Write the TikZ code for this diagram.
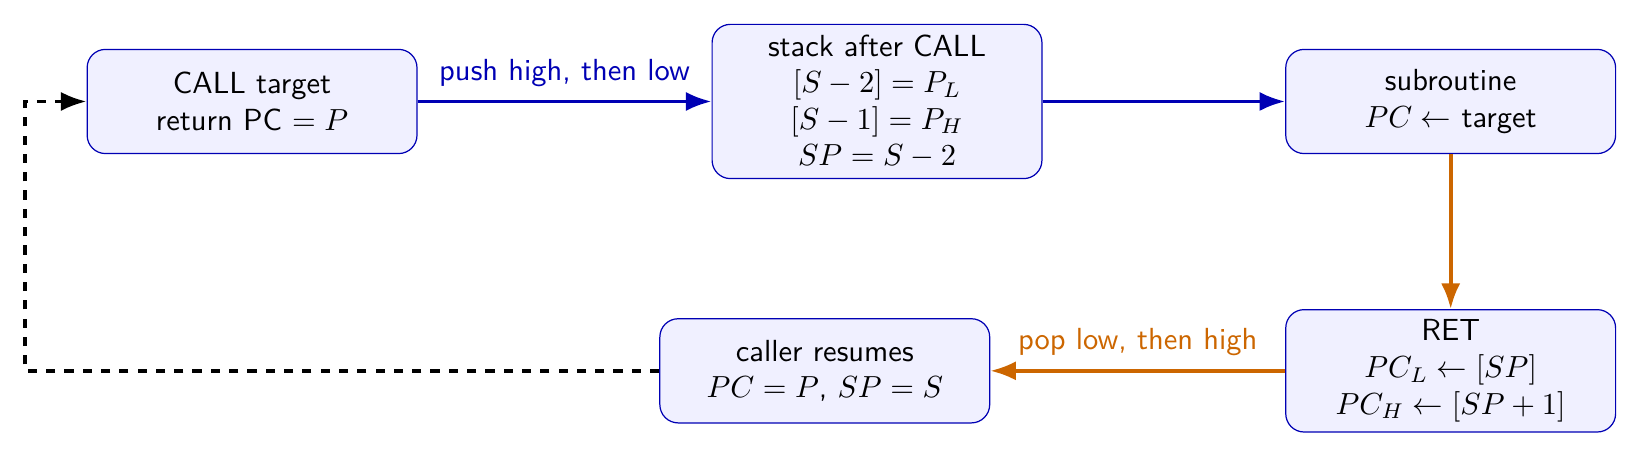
\documentclass[tikz,border=0pt]{standalone}
\usepackage{amsmath}
\usetikzlibrary{arrows.meta}

\definecolor{callblue}{RGB}{0,0,180}
\definecolor{retorange}{RGB}{204,102,0}

\begin{document}
\begin{tikzpicture}[>=Latex,very thick,font=\sffamily,
        box/.style={draw=callblue, fill=blue!6, thin, rounded corners=6pt, align=center, minimum width=3.8cm, minimum height=1.2cm}]
        \useasboundingbox (0,0) rectangle (18.894,-5.276);
        \node (call) [box] at (2.904,-1.169) {CALL target\\return PC $= P$};
        \node (stack) [box] at (10.104,-1.169) {stack after CALL\\$[S-2] = P_L$\\$[S-1] = P_H$\\$SP = S-2$};
        \node (sub) [box] at (16.713,-1.169) {subroutine\\$PC \leftarrow$ target};
        \node (ret) [box] at (16.713,-4.272) {RET\\$PC_L \leftarrow [SP]$\\$PC_H \leftarrow [SP+1]$};
        \node (resume) [box] at (9.502,-4.272) {caller resumes\\$PC = P$, $SP = S$};
        \coordinate (loopb) at (0.289,-4.272);
        \coordinate (loopt) at (0.289,-1.169);
        \draw[->,callblue] (call) -- node[above=1pt]{push high, then low} (stack);
        \draw[->,callblue] (stack) -- (sub);
        \draw[->,retorange] (sub) -- (ret);
        \draw[->,retorange] (ret) -- node[above=1pt]{pop low, then high} (resume);
        \draw[->,dashed] (resume) -- (loopb) -- (loopt) -- (call);
    \end{tikzpicture}
\end{document}
